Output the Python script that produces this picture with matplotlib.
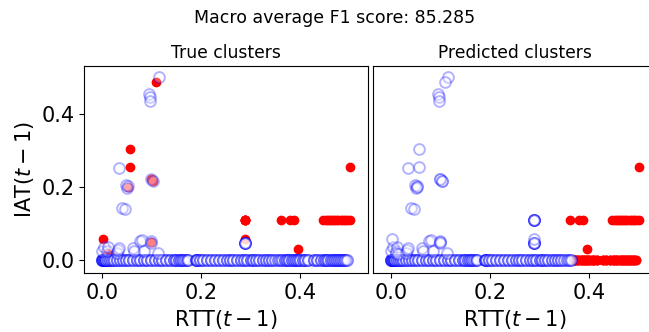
import numpy as np
import matplotlib.pyplot as plt

# Samples along IAT(t-1) = 0: RTT value and how many samples share it
row_rtt = [0.000, 0.002, 0.004, 0.006, 0.008, 0.012, 0.016, 0.020, 0.025, 0.030,
           0.036, 0.042, 0.048, 0.055, 0.062, 0.070, 0.078, 0.085, 0.092, 0.100,
           0.108, 0.115, 0.122, 0.130, 0.138, 0.145, 0.150, 0.155, 0.160, 0.164,
           0.168, 0.171, 0.174,
           0.190, 0.193, 0.198, 0.205, 0.212, 0.220, 0.228, 0.236, 0.244, 0.252,
           0.258, 0.265, 0.272, 0.280, 0.287, 0.293, 0.300, 0.306, 0.312, 0.318,
           0.325, 0.332, 0.338, 0.344, 0.350, 0.355, 0.360, 0.364]
row_count = [5, 3, 3, 3, 3, 3, 3, 3, 3, 3,
             3, 3, 3, 3, 3, 3, 3, 3, 3, 3,
             3, 3, 3, 3, 3, 3, 3, 3, 3, 3,
             2, 2, 2,
             4, 3, 3, 3, 3, 3, 3, 3, 3, 3,
             3, 3, 3, 3, 3, 3, 3, 3, 3, 3,
             3, 3, 3, 3, 2, 2, 2, 2]
row_rtt_p1 = [0.370, 0.374, 0.378, 0.383, 0.388, 0.392, 0.396, 0.400, 0.405, 0.410,
              0.415, 0.428, 0.435, 0.442, 0.448, 0.452, 0.457, 0.462, 0.466, 0.470,
              0.474, 0.478, 0.482, 0.486, 0.490, 0.494]
row_count_p1 = [3, 3, 3, 3, 3, 3, 3, 3, 3, 3,
                3, 3, 3, 3, 3, 3, 3, 3, 3, 3,
                3, 3, 3, 3, 3, 2]

# true cluster 0, predicted cluster 0 (off the zero row)
rtt_t0_p0 = [0.000, 0.005, 0.011, 0.013, 0.030, 0.033, 0.035, 0.062, 0.064, 0.078,
             0.081, 0.085, 0.100, 0.100, 0.114,
             0.116, 0.096, 0.097, 0.098, 0.035, 0.049, 0.051, 0.053, 0.040, 0.047,
             0.100, 0.104,
             0.289, 0.289, 0.289, 0.289, 0.289]
iat_t0_p0 = [0.025, 0.036, 0.025, 0.036, 0.020, 0.027, 0.032, 0.032, 0.025, 0.053,
             0.055, 0.025, 0.053, 0.045, 0.018,
             0.500, 0.454, 0.445, 0.436, 0.251, 0.205, 0.198, 0.202, 0.143, 0.139,
             0.222, 0.216,
             0.047, 0.047, 0.047, 0.047, 0.047]

# true cluster 1, predicted cluster 0
rtt_t1_p0 = [0.002, 0.010, 0.015, 0.053, 0.056, 0.057, 0.100, 0.104, 0.100, 0.110,
             0.289, 0.289, 0.289, 0.289, 0.289, 0.289]
iat_t1_p0 = [0.058, 0.020, 0.017, 0.200, 0.304, 0.253, 0.222, 0.216, 0.050, 0.486,
             0.108, 0.108, 0.108, 0.108, 0.108, 0.056]

# true cluster 1, predicted cluster 1
rtt_t1_p1 = [0.361, 0.380, 0.388, 0.395,
             0.447, 0.452, 0.456, 0.460, 0.464, 0.468, 0.472, 0.476, 0.482, 0.486,
             0.490, 0.495, 0.500, 0.500]
iat_t1_p1 = [0.108, 0.108, 0.108, 0.030,
             0.108, 0.108, 0.108, 0.108, 0.108, 0.108, 0.108, 0.108, 0.108, 0.108,
             0.108, 0.108, 0.108, 0.253]

f1_macro = 85.285

row0 = np.repeat(row_rtt, row_count)
row1 = np.repeat(row_rtt_p1, row_count_p1)
rtt = np.concatenate([row0, rtt_t0_p0, row1, rtt_t1_p0, rtt_t1_p1])
iat = np.concatenate([np.zeros(len(row0)), iat_t0_p0, np.zeros(len(row1)), iat_t1_p0, iat_t1_p1])
n00 = len(row0) + len(rtt_t0_p0)
y_true = np.array([0] * n00 + [0] * len(row1) + [1] * len(rtt_t1_p0) + [1] * len(rtt_t1_p1))
y_pred = np.array([0] * n00 + [1] * len(row1) + [0] * len(rtt_t1_p0) + [1] * len(rtt_t1_p1))

fig = plt.figure(figsize=(6.49, 3.32), dpi=100)
ax1 = fig.add_axes([0.1294, 0.1777, 0.4376, 0.6235])
ax2 = fig.add_axes([0.5747, 0.1777, 0.4376, 0.6235], sharex=ax1, sharey=ax1)


def draw(ax, labels, title):
    ax.scatter(rtt[labels == 1], iat[labels == 1], c="r", s=36, zorder=2)
    ax.scatter(rtt[labels == 0], iat[labels == 0], facecolors="w", edgecolors="b",
               s=60, linewidths=1.4, alpha=0.3, zorder=3)
    ax.set_title(title, fontsize=12.3)
    ax.set_xlabel(r"RTT$(t-1)$", fontsize=15)
    ax.tick_params(labelsize=15)


draw(ax1, y_true, "True clusters")
draw(ax2, y_pred, "Predicted clusters")
ax1.set_ylabel(r"IAT$(t-1)$", fontsize=15)
ax2.tick_params(axis="y", left=False, labelleft=False)
ax1.set_xlim(-0.036, 0.537)
ax1.set_ylim(-0.036, 0.531)
ax1.set_xticks([0.0, 0.2, 0.4])
ax1.set_yticks([0.0, 0.2, 0.4])

fig.text(0.516, 1 - 18 / 332, "Macro average F1 score: %.3f" % f1_macro,
         ha="center", va="center", fontsize=12.5)

fig.savefig("out.png", dpi=100)
